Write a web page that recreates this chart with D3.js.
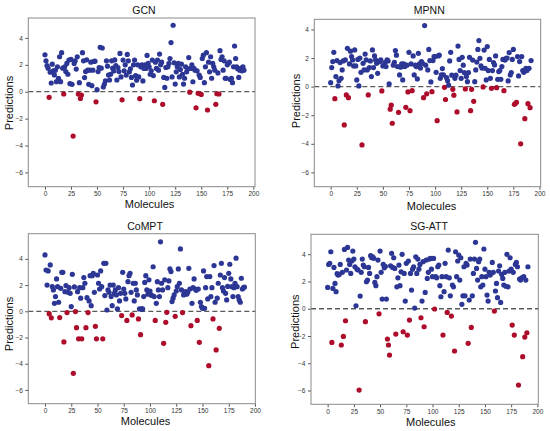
<!DOCTYPE html>
<html>
<head>
<meta charset="utf-8">
<script src="https://cdn.jsdelivr.net/npm/d3@7"></script>
<style>
  body { margin: 0; background: #fff; }
  svg { display: block; font-family: "Liberation Sans", Arial, sans-serif; }
  .tick text { fill: #333; }
</style>
</head>
<body>
<svg id="chart" width="550" height="431"></svg>
<script>

// ---------------------------
// DATA (prediction per molecule index)
// ---------------------------

const modelNames = ["GCN", "MPNN", "CoMPT", "SG-ATT"];

const gcnValues = [
    2.75, 2.3, 1.95, 1.75, -0.42, 1.45, 0.65, 2.05, 1.55, 1.25,
    1.6, 0.75, 1.85, 1.0, 2.6, 0.75, 2.9, 1.75, -0.17, 1.85,
    1.5, 2.1, 1.3, 2.35, 0.6, 2.4, 0.55, -3.3, 2.1, 2.3,
    1.68, 2.6, -0.17, 0.67, -0.5, -0.25, 2.9, 2.3, 1.05, 1.5,
    2.37, 1.6, 0.55, 1.6, 2.2, 0.45, 1.6, 2.25, 2.27, -0.75,
    0.15, 1.5, 1.8, 3.3, 1.75, 3.25, 0.35, 0.55, 0.8, 2.3,
    1.9, 1.24, 0.87, 1.3, 2.3, 1.75, 1.54, 2.36, 1.94, 0.87,
    1.8, 1.5, 2.85, 1.1, -0.6, 2.35, 1.56, 2.0, 1.24, 2.77,
    2.3, 1.48, 1.7, 1.06, 0.5, 2.0, 2.35, 1.2, 0.86, 2.0,
    1.1, -0.52, 1.85, 2.0, 0.8, 1.73, 2.0, 1.73, 2.7, 2.1,
    1.85, 1.3, 1.55, 2.35, 1.2, -0.67, 2.2, 1.73, 2.35, 1.6,
    2.8, 2.0, 2.2, -0.94, 1.06, 0.32, 1.8, 1.0, 1.85, 2.1,
    2.47, 3.65, 1.1, 4.94, 2.15, 0.57, 1.48, 1.85, 2.1, 1.1,
    1.65, 2.05, 1.3, 0.57, 1.0, 1.85, 1.48, 1.7, 2.54, -0.03,
    1.73, 2.0, 0.74, 1.73, 1.6, -1.2, 1.55, -0.12, 1.24, 1.06,
    -0.2, 2.47, 2.72, 0.67, 1.85, 2.9, -1.36, 2.2, 1.48, 2.6,
    1.0, 2.1, 1.85, 1.6, -0.94, -0.15, 1.4, -0.17, 3.05, 2.4,
    2.6, 1.6, 2.3, 1.0, 1.0, 2.0, 2.1, 2.2, 0.9, 1.0,
    0.67, 1.85, 3.4, 2.47, 1.85, 1.7, 1.06, 1.6, 1.73, 1.55,
    1.85, 1.6
];

const mpnnValues = [
    0.28, 1.33, 1.75, 2.4, -0.84, 0.7, 1.82, 0.05, 0.42, 1.68,
    0.58, 1.17, 1.8, -2.68, 1.87, -0.58, 2.68, -0.77, 1.59, 2.48,
    2.1, 1.87, 1.45, 2.57, 1.45, 0.47, 1.9, 0.05, 2.0, 1.0,
    -4.08, 1.63, 1.17, 2.28, 1.87, 1.17, -0.58, 1.33, 1.8, 0.7,
    2.57, 1.33, 2.15, 1.87, 1.63, 0.93, 1.75, 1.75, 1.87, -0.3,
    1.45, 1.5, 1.68, 1.4, 1.87, 1.8, 0.19, -1.58, -1.3, -2.56,
    1.5, 1.7, 2.52, 2.2, 1.4, -1.8, 0.82, 1.36, 1.6, 0.47,
    1.59, 1.4, -1.45, 1.5, -0.37, 2.4, -1.68, 1.59, -0.28, 2.15,
    0.82, 1.5, 1.4, 0.54, 2.33, 1.59, 1.3, 1.75, 1.63, -0.77,
    4.27, 1.5, -0.5, 1.17, 2.6, 1.82, 0.33, -0.35, 1.82, 2.1,
    2.1, 1.0, -2.38, 2.15, 2.2, 0.58, 0.82, 1.26, 0.82, -0.05,
    -0.9, 0.63, 0.42, 0.1, 1.8, 2.4, 0.8, -0.19, -0.6, 0.58,
    0.8, -1.77, 2.84, 1.9, 1.12, 0.58, 2.05, 1.5, 0.98, -0.16,
    0.7, 0.35, 0.98, 2.05, -1.68, -0.19, 1.86, -1.03, 0.35, 1.17,
    1.72, 2.6, 3.22, 1.98, 1.45, 1.3, -0.02, 2.56, 1.28, 0.47,
    2.8, 1.12, 1.9, 0.58, -0.12, 1.12, 1.68, 1.52, 2.15, -0.07,
    0.51, 1.05, 1.12, 0.51, 1.4, 1.9, -0.28, 1.86, 1.98, 2.0,
    0.4, 2.38, 0.82, 0.98, 1.9, 2.6, -1.24, -1.17, -1.1, 2.1,
    0.75, 1.75, -4.0, 2.1, 1.12, 1.0, -2.24, 1.28, 1.12, -1.19,
    1.28, -1.47, 1.82
];

const comptValues = [
    4.3, 3.15, 2.0, 3.08, -0.18, 3.54, -0.5, 1.88, 1.63, 0.61,
    1.12, 2.47, 1.88, 0.69, -0.48, 1.75, 2.97, 2.97, -2.34, 1.5,
    1.96, -0.1, 1.45, 1.8, 1.37, 0.36, 2.82, -4.73, 1.86, -0.02,
    -1.25, 1.5, -2.1, 1.8, 1.0, -2.1, 1.8, 2.57, 2.14, -1.25,
    1.04, -0.1, 0.79, 2.72, 0.43, 2.72, 2.9, 1.45, -1.15, -2.1,
    2.77, 2.14, 1.7, 3.08, 1.88, -2.1, 3.66, 1.2, 3.66, 0.1,
    1.63, 1.45, 2.0, 1.12, 0.43, 2.0, 1.37, 1.63, 1.25, 0.18,
    1.8, 0.79, 1.37, -0.33, 2.97, 1.7, 1.37, 0.94, -0.7, 2.26,
    2.72, 2.9, 1.45, -0.28, 2.14, 0.79, 2.14, 1.63, 1.25, -0.58,
    0.18, -1.78, 0.18, 0.18, 1.12, 2.2, 2.72, 1.63, 1.3, 2.4,
    1.55, 1.25, 1.2, 3.4, 1.12, -0.7, 0.61, 2.26, 1.63, 1.12,
    5.3, 2.14, 1.63, -2.44, 2.4, -0.84, -0.08, 1.8, 2.32, 3.23,
    3.03, 0.74, 1.0, 1.25, -0.38, 1.55, 1.88, 3.23, 2.14, 4.76,
    1.63, -0.1, 1.25, 1.45, 1.5, 1.3, 1.45, 3.28, 1.7, -1.1,
    0.61, 1.8, 2.47, 1.7, 1.6, -0.7, 1.7, -2.37, 0.69, 0.36,
    0.23, 3.08, 0.23, 1.8, 2.65, 0.94, -4.15, 2.65, 1.12, 1.8,
    -0.58, 3.49, 0.69, -2.95, 1.0, 2.14, -1.3, 2.77, 3.66, 1.8,
    1.55, 2.57, 1.37, 0.87, 1.9, 2.9, 3.59, 2.47, 1.88, 1.12,
    1.8, 2.14, 4.05, 1.88, 1.12, 0.87, 0.69, 2.52, 1.7, 1.8,
    1.85
];

const sgattValues = [
    1.56, 3.25, 3.33, 4.18, -2.47, 1.49, 3.03, 1.86, 1.25, 2.57,
    2.47, 2.52, 3.25, -2.66, 2.67, -2.03, 4.35, -0.88, 2.84, 4.5,
    3.57, 3.25, 2.59, 3.5, 4.23, 3.64, 3.08, 0.22, 2.9, 2.84,
    -5.97, 0.93, 2.67, 3.64, 3.2, 3.08, -0.95, 1.98, 2.1, 3.03,
    2.59, 3.89, 3.74, 3.81, 3.7, 1.93, 1.69, 2.35, 3.57, -0.37,
    4.23, 2.67, 0.71, 3.25, 3.0, 3.1, 0.71, -2.22, -2.66, -3.4,
    3.15, 4.06, 3.03, 3.74, 2.96, -1.86, 1.61, 2.27, 3.2, 1.69,
    2.71, 3.99, -1.69, 2.59, 0.56, 3.33, -1.93, 3.5, -0.83, 2.59,
    1.37, 2.9, 3.08, 0.05, 3.81, 2.59, 3.64, 2.9, 3.25, -0.66,
    0.56, 3.45, -1.32, 1.2, 3.57, 2.22, 2.67, 3.64, 3.69, 2.9,
    2.35, 3.69, -0.02, 2.35, 2.27, 3.08, 3.2, 1.69, 0.88, 2.35,
    -1.93, 1.25, 3.33, 2.35, -0.27, 4.3, 2.27, 0.95, -0.54, 1.74,
    1.61, -3.1, 4.18, 2.35, 3.5, 3.94, 2.1, 3.74, 0.32, 0.95,
    3.08, 0.95, 3.33, 3.2, -2.54, 0.64, 3.64, -1.37, 0.95, 2.59,
    3.64, 4.87, 2.96, 2.1, 3.45, 3.64, 1.61, 2.35, 1.74, 4.38,
    2.9, 2.35, 1.0, 0.56, 2.67, 2.47, 2.6, 3.4, 2.67, -0.17,
    1.3, 1.86, 0.81, 2.76, 3.15, 0.46, 2.52, 2.22, 1.74, 2.67,
    1.65, 3.99, 1.61, 2.76, 3.74, 2.9, -1.2, 2.67, -1.93, 3.25,
    3.4, 3.08, -5.6, 2.18, 2.1, 2.27, -3.52, 2.35, -2.08, 2.1,
    -1.76, 3.08
];

const xTicks = [0, 25, 50, 75, 100, 125, 150, 175, 200];
const yTicks = [-6, -4, -2, 0, 2, 4];

const xLabel = "Molecules";
const yLabel = "Predictions";

// ---------------------------
// LAYOUT
// ---------------------------

const posColor = "#2c3694";
const negColor = "#ad0c2a";
const frameColor = "#8a8a8a";

// one entry per subplot: frame box, axis limits, label spots
const panels = [
    { values: gcnValues, left: 28.3, right: 255, top: 18, bottom: 186.7,
      xDomain: [-16, 201.6], yDomain: [-7.06, 5.48],
      title: [144, 9.5], xlab: [149.5, 204], ylab: [9.3, 103] },
    { values: mpnnValues, left: 314.3, right: 540.7, top: 19.3, bottom: 186.7,
      xDomain: [-15.7, 201.2], yDomain: [-7.0, 4.71],
      title: [429.3, 10], xlab: [431.5, 205.7], ylab: [296, 101] },
    { values: comptValues, left: 28.3, right: 255.3, top: 233.7, bottom: 403.7,
      xDomain: [-15.9, 200.3], yDomain: [-7.05, 5.92],
      title: [145, 226], xlab: [145.5, 420.7], ylab: [9.3, 324] },
    { values: sgattValues, left: 311, right: 538.3, top: 234.3, bottom: 404.3,
      xDomain: [-15.9, 200.9], yDomain: [-7.01, 5.46],
      title: [429, 226], xlab: [430.8, 421.7], ylab: [295, 321.7] }
];

const svg = d3.select("#chart");

// ---------------------------
// DRAW EACH SUBPLOT
// ---------------------------

const drawPanel = (p, i) => {

    const xScale = d3.scaleLinear().domain(p.xDomain).range([p.left, p.right]);
    const yScale = d3.scaleLinear().domain(p.yDomain).range([p.bottom, p.top]);

    const g = svg.append("g").attr("class", "panel");

    // x axis
    g.append("g")
        .attr("transform", `translate(0, ${p.bottom})`)
        .call(d3.axisBottom(xScale).tickValues(xTicks).tickSize(3).tickPadding(2))
        .call(a => a.select(".domain").remove())
        .call(a => a.selectAll("line").attr("stroke", "#555"))
        .call(a => a.selectAll("text").attr("font-size", "6.5px"));

    // y axis
    g.append("g")
        .attr("transform", `translate(${p.left}, 0)`)
        .call(d3.axisLeft(yScale).tickValues(yTicks).tickSize(3).tickPadding(2.5))
        .call(a => a.select(".domain").remove())
        .call(a => a.selectAll("line").attr("stroke", "#555"))
        .call(a => a.selectAll("text").attr("font-size", "6.5px"));

    // zero reference line
    g.append("line")
        .attr("x1", p.left)
        .attr("x2", p.right)
        .attr("y1", yScale(0))
        .attr("y2", yScale(0))
        .attr("stroke", "#5a5a5a")
        .attr("stroke-width", 1.3)
        .attr("stroke-dasharray", "5,3");

    // points
    g.append("g")
        .selectAll("circle")
        .data(p.values)
        .join("circle")
        .attr("cx", (d, j) => xScale(j))
        .attr("cy", d => yScale(d))
        .attr("r", 2.6)
        .attr("fill", d => d < 0 ? negColor : posColor);

    // frame
    g.append("rect")
        .attr("x", p.left)
        .attr("y", p.top)
        .attr("width", p.right - p.left)
        .attr("height", p.bottom - p.top)
        .attr("fill", "none")
        .attr("stroke", frameColor)
        .attr("stroke-width", 1);

    // title
    g.append("text")
        .attr("x", p.title[0])
        .attr("y", p.title[1])
        .attr("text-anchor", "middle")
        .attr("dominant-baseline", "central")
        .attr("font-size", "10.5px")
        .attr("fill", "#111")
        .text(modelNames[i]);

    // axis labels
    g.append("text")
        .attr("x", p.xlab[0])
        .attr("y", p.xlab[1])
        .attr("text-anchor", "middle")
        .attr("dominant-baseline", "central")
        .attr("font-size", "11px")
        .attr("fill", "#111")
        .text(xLabel);

    g.append("text")
        .attr("transform", `translate(${p.ylab[0]}, ${p.ylab[1]}) rotate(-90)`)
        .attr("text-anchor", "middle")
        .attr("dominant-baseline", "central")
        .attr("font-size", "11px")
        .attr("fill", "#111")
        .text(yLabel);
};

panels.forEach(drawPanel);

</script>
</body>
</html>
